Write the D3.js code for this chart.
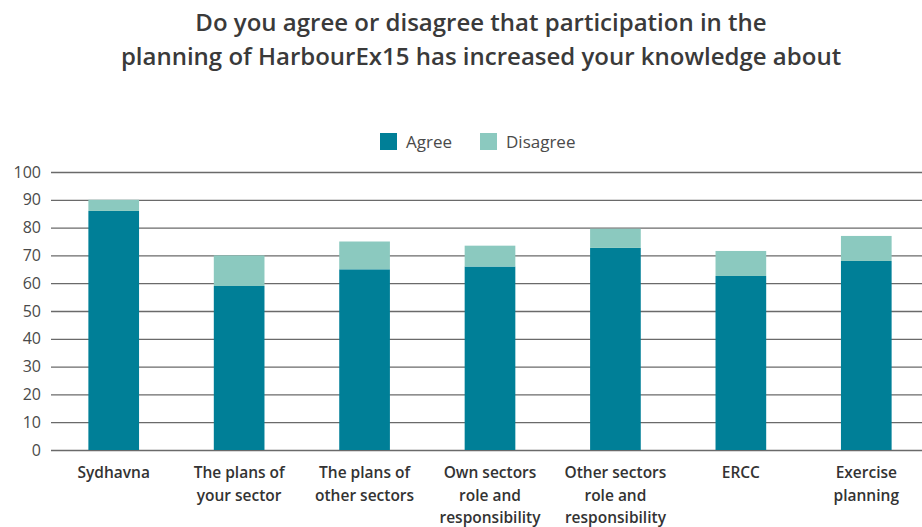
<!DOCTYPE html>
<html>
<head>
<meta charset="utf-8">
<script src="https://cdn.jsdelivr.net/npm/d3@7"></script>
<style>
  html, body { margin: 0; padding: 0; background: #fff; }
  svg { display: block; }
  text { font-family: "Open Sans", "DejaVu Sans", sans-serif; }
</style>
</head>
<body>
<svg id="chart" width="922" height="527"></svg>
<script>
// Survey results: share of respondents (%) per topic
const categories = [
  ["Sydhavna"],
  ["The plans of", "your sector"],
  ["The plans of", "other sectors"],
  ["Own sectors", "role and", "responsibility"],
  ["Other sectors", "role and", "responsibility"],
  ["ERCC"],
  ["Exercise", "planning"]
];
const agree    = [86, 59, 65, 66, 72.7, 62.6, 68];
const disagree = [4, 11, 10, 7.5, 6.9, 9, 9];
const seriesNames = ["Agree", "Disagree"];
const seriesColors = ["#007f97", "#8bc9bf"];
const yTicks = [0, 10, 20, 30, 40, 50, 60, 70, 80, 90, 100];
const titleLines = [
  "Do you agree or disagree that participation in the",
  "planning of HarbourEx15 has increased your knowledge about"
];

const svg = d3.select("#chart");
const margin = { left: 51, right: -7, top: 172, bottom: 77 };
const W = 922, H = 527;

const x = d3.scaleBand()
  .domain(d3.range(categories.length))
  .range([margin.left, W - margin.right])
  .paddingInner(0.596)
  .paddingOuter(0.298);

const y = d3.scaleLinear()
  .domain([0, 100])
  .range([H - margin.bottom, margin.top]);

// Title
svg.append("g")
  .selectAll("text")
  .data(titleLines)
  .join("text")
  .attr("x", 481)
  .attr("y", (d, i) => 31 + i * 34)
  .attr("text-anchor", "middle")
  .attr("font-size", 24)
  .attr("font-weight", 600)
  .attr("fill", "#3a3a3a")
  .text(d => d);

// Gridlines and y labels
const yAxis = d3.axisLeft(y)
  .tickValues(yTicks)
  .tickSize(-(W - margin.left))
  .tickPadding(10);

const gy = svg.append("g")
  .attr("transform", `translate(${margin.left},0)`)
  .call(yAxis);
gy.select(".domain").remove();
gy.selectAll(".tick line")
  .attr("stroke", "#6a6a6a")
  .attr("stroke-width", 1.3);
gy.selectAll(".tick text")
  .attr("font-size", 16)
  .attr("fill", "#4a4a4a")
  .attr("font-family", "\"Open Sans\", sans-serif");

// Stacked bars
const rows = categories.map((c, i) => ({ i, Agree: agree[i], Disagree: disagree[i] }));
const stacked = d3.stack().keys(seriesNames)(rows);

svg.append("g")
  .selectAll("g")
  .data(stacked)
  .join("g")
  .attr("fill", (d, k) => seriesColors[k])
  .selectAll("rect")
  .data(d => d)
  .join("rect")
  .attr("x", d => x(d.data.i))
  .attr("width", x.bandwidth())
  .attr("y", d => y(d[1]))
  .attr("height", d => y(d[0]) - y(d[1]));

// Category labels
const xl = svg.append("g")
  .selectAll("text")
  .data(categories)
  .join("text")
  .attr("text-anchor", "middle")
  .attr("font-size", 15.5)
  .attr("font-weight", 600)
  .attr("fill", "#333");
xl.selectAll("tspan")
  .data((d, i) => d.map(line => ({ line, i })))
  .join("tspan")
  .attr("x", d => x(d.i) + x.bandwidth() / 2)
  .attr("y", (d, j) => 478 + j * 22.5)
  .text(d => d.line);

// Legend
const legend = svg.append("g");
const legendX = [380, 480];
seriesNames.forEach((name, k) => {
  legend.append("rect")
    .attr("x", legendX[k]).attr("y", 133)
    .attr("width", 17).attr("height", 17)
    .attr("fill", seriesColors[k]);
  legend.append("text")
    .attr("x", legendX[k] + 26).attr("y", 148)
    .attr("font-size", 17)
    .attr("fill", "#4a4a4a")
    .text(name);
});
</script>
</body>
</html>
